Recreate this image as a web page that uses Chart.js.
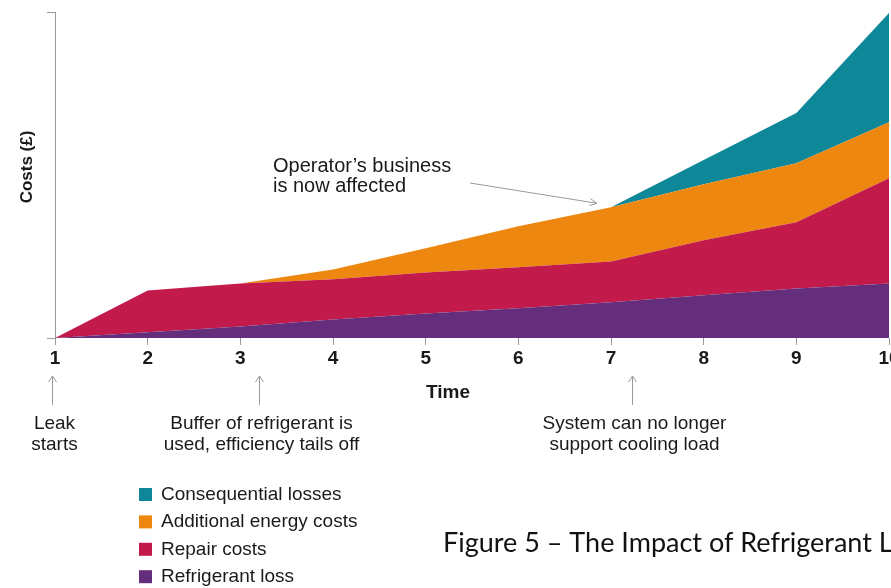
<!DOCTYPE html>
<html>
<head>
<meta charset="utf-8">
<script src="https://cdn.jsdelivr.net/npm/chart.js@4.4.1/dist/chart.umd.min.js"></script>
<style>
  html, body { margin: 0; padding: 0; background: #fff; overflow: hidden; }
  body { width: 891px; height: 588px; }
  #wrap { position: relative; width: 920px; height: 588px; }
</style>
</head>
<body>
<div id="wrap">
  <canvas id="leakChart" width="920" height="588"></canvas>
</div>
<script>
// time steps along the x axis
const timeSteps = [1, 2, 3, 4, 5, 6, 7, 8, 9, 10];

// stacked cost layers, bottom to top
const refrigerantLoss = [0, 1.8, 3.5, 5.7, 7.5, 9.1, 11.0, 13.1, 15.2, 16.7];
const repairCosts     = [0, 12.8, 13.2, 12.3, 12.6, 12.6, 12.5, 16.9, 20.3, 32.3];
const energyCosts     = [0, 0, 0, 3.0, 7.4, 12.6, 16.6, 17.2, 18.1, 17.2];
const consequential   = [0, 0, 0, 0, 0, 0, 0, 7.4, 15.4, 33.5];

const seriesNames  = ["Refrigerant loss", "Repair costs", "Additional energy costs", "Consequential losses"];
const seriesColors = ["#652e7c", "#c21a4a", "#ee870f", "#0e8799"];

const timeNotes = [
  { at: 0.97, lines: ["Leak", "starts"] },
  { at: 3.2,  lines: ["Buffer of refrigerant is", "used, efficiency tails off"] },
  { at: 7.23, lines: ["System can no longer", "support cooling load"] },
];

const xTitle = "Time";
const yTitle = "Costs (\u00a3)";
const caption = "Figure 5 \u2013 The Impact of Refrigerant Leakage";

const seriesData = [refrigerantLoss, repairCosts, energyCosts, consequential];

const datasets = seriesData.map((values, i) => ({
  label: seriesNames[i],
  data: values.map((v, j) => ({ x: timeSteps[j], y: v })),
  backgroundColor: seriesColors[i],
  borderColor: seriesColors[i],
  borderWidth: 0,
  pointRadius: 0,
  tension: 0,
  fill: i === 0 ? "origin" : "-1",
}));

const GREY = "#9a9a9a";
const TEXT = "#1a1a1a";
const SANS = "'Liberation Sans', Arial, sans-serif";

// axis titles, arrows, notes, legend and caption around the plot
const extras = {
  id: "extras",
  afterDraw(chart) {
    const { ctx, scales: { x, y } } = chart;
    ctx.save();
    ctx.fillStyle = TEXT;

    // axis titles
    ctx.font = "bold 19px " + SANS;
    ctx.textAlign = "center";
    ctx.textBaseline = "alphabetic";
    ctx.fillText(xTitle, 448, 398);
    ctx.save();
    ctx.translate(32, 167);
    ctx.rotate(-Math.PI / 2);
    ctx.font = "bold 17px " + SANS;
    ctx.fillText(yTitle, 0, 0);
    ctx.restore();

    // notes under the time axis
    ctx.strokeStyle = GREY;
    ctx.lineWidth = 1;
    ctx.font = "19px " + SANS;
    timeNotes.forEach((n) => {
      const px = Math.round(x.getPixelForValue(n.at)) + 0.5;
      ctx.beginPath();
      ctx.moveTo(px, 405);
      ctx.lineTo(px, 376);
      ctx.moveTo(px - 4, 382);
      ctx.lineTo(px, 376);
      ctx.lineTo(px + 4, 382);
      ctx.stroke();
      n.lines.forEach((t, k) => ctx.fillText(t, px + 2, 429 + k * 21));
    });

    // pointer to where the consequential losses begin
    const topAt7 = seriesData.reduce((s, arr) => s + arr[6], 0);
    const ex = x.getPixelForValue(7) - 14;
    const ey = y.getPixelForValue(topAt7) - 4;
    const sx = 470, sy = 183;
    const ang = Math.atan2(ey - sy, ex - sx);
    ctx.beginPath();
    ctx.moveTo(sx, sy);
    ctx.lineTo(ex, ey);
    ctx.moveTo(ex - 8 * Math.cos(ang - 0.45), ey - 8 * Math.sin(ang - 0.45));
    ctx.lineTo(ex, ey);
    ctx.lineTo(ex - 8 * Math.cos(ang + 0.45), ey - 8 * Math.sin(ang + 0.45));
    ctx.stroke();
    ctx.textAlign = "left";
    ctx.font = "20px " + SANS;
    ctx.fillText("Operator\u2019s business", 273, 172);
    ctx.fillText("is now affected", 273, 192);

    // legend, top layer first
    ctx.font = "19px " + SANS;
    for (let i = seriesNames.length - 1, row = 0; i >= 0; i--, row++) {
      const base = 500 + row * 27.4;
      ctx.fillStyle = seriesColors[i];
      ctx.fillRect(139, base - 12, 13, 13);
      ctx.fillStyle = TEXT;
      ctx.fillText(seriesNames[i], 161, base);
    }

    // caption
    ctx.font = "27px Lato, 'Open Sans', sans-serif";
    ctx.fillStyle = "#111";
    ctx.fillText(caption, 443, 552);

    ctx.restore();
  },
};

new Chart(document.getElementById("leakChart"), {
  type: "line",
  data: { datasets },
  plugins: [extras],
  options: {
    responsive: false,
    animation: false,
    layout: { padding: { top: 12, right: 31, left: 0, bottom: 0 } },
    plugins: {
      legend: { display: false },
      tooltip: { enabled: false },
    },
    scales: {
      x: {
        type: "linear",
        min: 1,
        max: 10,
        afterFit: (s) => { s.height = 250; },
        ticks: {
          stepSize: 1,
          padding: 2,
          color: TEXT,
          font: { family: SANS, size: 19, weight: "bold" },
        },
        grid: { drawOnChartArea: false, drawTicks: true, tickLength: 7, color: GREY },
        border: { display: false },
      },
      y: {
        stacked: true,
        min: 0,
        max: 100,
        afterFit: (s) => { s.width = 55; },
        ticks: { display: false, stepSize: 100 },
        grid: { drawOnChartArea: false, drawTicks: true, tickLength: 8, color: GREY },
        border: { display: true, color: GREY, width: 1 },
      },
    },
  },
});
</script>
</body>
</html>
